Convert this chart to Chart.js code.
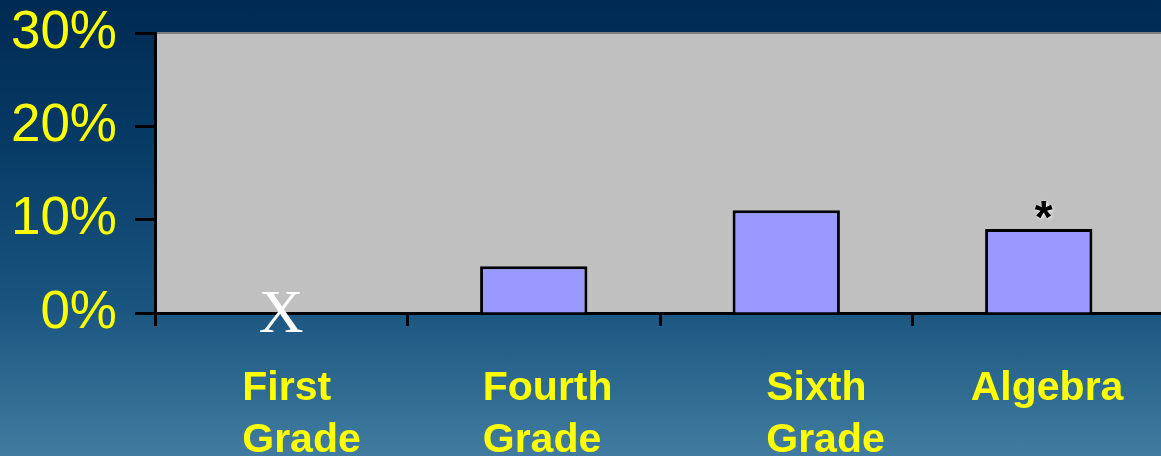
<!DOCTYPE html>
<html>
<head>
<meta charset="utf-8">
<script src="https://cdn.jsdelivr.net/npm/chart.js@4.4.1/dist/chart.umd.min.js"></script>
<style>
  html, body { margin: 0; padding: 0; width: 1161px; height: 456px; overflow: hidden; }
  body { background: linear-gradient(to bottom, #002a52 0%, #063a65 30%, #1a5680 68%, #417ca0 100%); }
  #wrap { position: relative; width: 1161px; height: 456px; overflow: hidden; }
  canvas { display: block; }
</style>
</head>
<body>
<div id="wrap"><canvas id="chart" width="1165" height="456"></canvas></div>
<script>
// Categories (multi-line labels), percentage per category, and notes per category
const categories = [['First', 'Grade'], ['Fourth', 'Grade'], ['Sixth', 'Grade'], ['Algebra']];
const shares = [null, 5, 11, 9];
const notes = ['X', '', '', '*'];
const yTicks = [0, 10, 20, 30];

// Horizontal nudges for the category captions (layout only)
const captionNudge = [-39, -51, -20, -68];

const plotBackground = {
  id: 'plotBackground',
  beforeDraw(chart) {
    const { ctx, chartArea: a } = chart;
    ctx.save();
    ctx.fillStyle = '#c0c0c0';
    ctx.fillRect(a.left, a.top, a.right - a.left, a.bottom - a.top);
    ctx.strokeStyle = '#7f7f7f';
    ctx.lineWidth = 2;
    ctx.beginPath();
    ctx.moveTo(a.left, a.top);
    ctx.lineTo(a.right, a.top);
    ctx.stroke();
    ctx.restore();
  }
};

const captions = {
  id: 'captions',
  afterDraw(chart) {
    const { ctx, scales: { x, y } } = chart;
    ctx.save();
    ctx.fillStyle = '#ffff00';
    ctx.font = 'bold 41px "Liberation Sans", Arial, sans-serif';
    ctx.textAlign = 'left';
    ctx.textBaseline = 'alphabetic';
    categories.forEach((lines, i) => {
      const left = x.getPixelForValue(i) + captionNudge[i];
      lines.forEach((line, j) => {
        ctx.fillText(line, left, x.top + 87 + j * 52);
      });
    });

    // Notes: "X" for a category without a bar, "*" above a flagged bar
    notes.forEach((note, i) => {
      if (!note) return;
      const cx = x.getPixelForValue(i);
      if (note === 'X') {
        ctx.fillStyle = '#ffffff';
        ctx.font = '62px "Liberation Serif", "Times New Roman", serif';
        ctx.textAlign = 'center';
        ctx.fillText(note, cx, y.getPixelForValue(0) + 19);
      } else {
        ctx.save();
        ctx.fillStyle = '#000000';
        ctx.shadowColor = 'rgba(255,255,255,0.9)';
        ctx.shadowBlur = 3;
        ctx.shadowOffsetX = 1;
        ctx.shadowOffsetY = 1;
        ctx.font = 'bold 46px "Liberation Sans", Arial, sans-serif';
        ctx.textAlign = 'center';
        ctx.fillText(note, cx + 5, y.getPixelForValue(shares[i]) + 4);
        ctx.restore();
      }
    });
    ctx.restore();
  }
};

new Chart(document.getElementById('chart'), {
  type: 'bar',
  data: {
    labels: categories,
    datasets: [{
      data: shares,
      backgroundColor: '#9999ff',
      borderColor: '#000000',
      borderWidth: 3,
      categoryPercentage: 1,
      barPercentage: 0.425
    }]
  },
  options: {
    responsive: false,
    animation: false,
    devicePixelRatio: 1,
    layout: { autoPadding: false, padding: { top: 33, left: 0, right: 0, bottom: 0 } },
    plugins: { legend: { display: false }, tooltip: { enabled: false } },
    scales: {
      x: {
        offset: true,
        grid: { offset: true, drawOnChartArea: false, drawTicks: true, tickLength: 13, tickWidth: 3, tickColor: '#000000' },
        border: { display: true, color: '#000000', width: 3 },
        ticks: { display: false },
        afterFit: s => { s.height = 143; s.paddingLeft = 0; s.paddingRight = 0; }
      },
      y: {
        min: 0,
        max: 30,
        afterBuildTicks: s => { s.ticks = yTicks.map(v => ({ value: v })); },
        ticks: {
          callback: v => v + '%',
          color: '#ffff00',
          font: { family: '"Liberation Sans", Arial, sans-serif', size: 53 },
          padding: 18
        },
        grid: { drawOnChartArea: false, drawTicks: true, tickLength: 20, tickWidth: 3, tickColor: '#000000' },
        border: { display: true, color: '#000000', width: 3 },
        afterFit: s => { s.width = 155; s.paddingTop = 0; s.paddingBottom = 0; }
      }
    }
  },
  plugins: [plotBackground, captions]
});
</script>
</body>
</html>
